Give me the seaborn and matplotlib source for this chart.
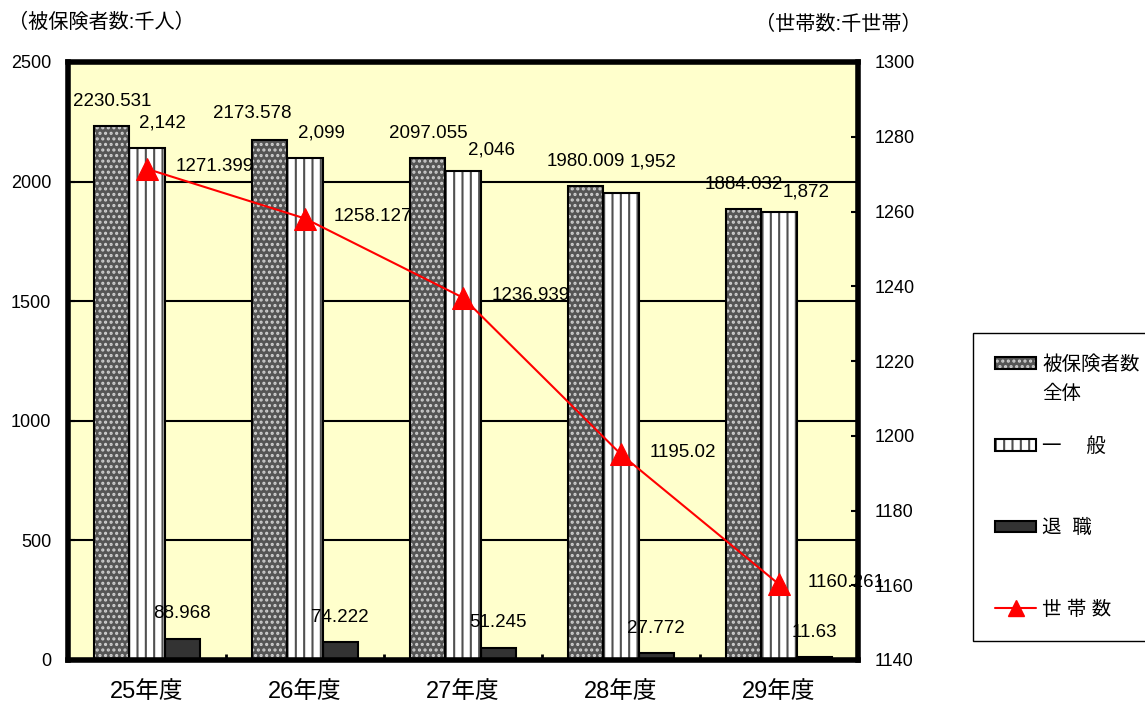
import numpy as np
import pandas as pd
import matplotlib
matplotlib.use('Agg')
import matplotlib.pyplot as plt
import seaborn as sns
from matplotlib.patches import Patch, Rectangle
from matplotlib.lines import Line2D
from matplotlib.legend_handler import HandlerBase, HandlerPatch

# ---- data ----
years = ['25年度', '26年度', '27年度', '28年度', '29年度']
insured_total = [2230.531, 2173.578, 2097.055, 1980.009, 1884.032]
general = [2142, 2099, 2046, 1952, 1872]
retired = [88.968, 74.222, 51.245, 27.772, 11.63]
households = [1271.399, 1258.127, 1236.939, 1195.02, 1160.261]
series_names = ['被保険者数全体', '一般', '退職']
left_ticks = [0, 500, 1000, 1500, 2000, 2500]
right_ticks = [1140, 1160, 1180, 1200, 1220, 1240, 1260, 1280, 1300]
legend_labels = ['被保険者数', '一\u3000 般', '退  職', '世 帯 数']
legend_label1_line2 = '全体'

W, H = 1145, 702

sns.set_theme(style='white', rc={'text.color': 'black', 'xtick.color': 'black',
                                 'ytick.color': 'black', 'axes.edgecolor': 'black'})
plt.rcParams['font.family'] = ['Liberation Sans', 'Noto Sans CJK JP']
plt.rcParams['hatch.linewidth'] = 1.5

df = pd.DataFrame({
    'year': years * 3,
    'series': np.repeat(series_names, len(years)),
    'value': insured_total + general + retired,
})

fig = plt.figure(figsize=(W / 100, H / 100), dpi=100)
ax = fig.add_axes([68 / W, 1 - 660 / H, 790 / W, 598 / H])
ax.set_facecolor('#FFFFCC')

sns.barplot(data=df, x='year', y='value', hue='series', hue_order=series_names,
            order=years, palette=['#555555', 'white', '#333333'], width=0.665,
            gap=0, edgecolor='black', linewidth=1.5, errorbar=None, legend=False, ax=ax)

# patterned bars: hatch layer + black outline
pattern = [('...', '#d0d0d0'), ('||', '#505050')]
for ci, (hatch, hcol) in enumerate(pattern):
    for bar in ax.containers[ci]:
        bar.set_hatch(hatch)
        bar.set_edgecolor(hcol)
        bar.set_linewidth(0)
        ax.add_patch(Rectangle(bar.get_xy(), bar.get_width(), bar.get_height(),
                               fill=False, edgecolor='black', lw=1.5,
                               zorder=bar.get_zorder() + 0.01))

# bar value labels (offsets in pixels)
tot_off = [(0, 25), (-18, 27), (0, 25), (0, 25), (0, 25)]
gen_off = [(15, 25), (16, 25), (28, 21), (32, 31), (27, 20)]
for bar, v, off in zip(ax.containers[0], insured_total, tot_off):
    ax.annotate(f'{v:.3f}', (bar.get_x() + bar.get_width() / 2, bar.get_height()),
                xytext=off, textcoords='offset pixels', ha='center', va='center', fontsize=13.5)
for bar, v, off in zip(ax.containers[1], general, gen_off):
    ax.annotate(f'{v:,}', (bar.get_x() + bar.get_width() / 2, bar.get_height()),
                xytext=off, textcoords='offset pixels', ha='center', va='center', fontsize=13.5)
for bar, v in zip(ax.containers[2], retired):
    ax.annotate(f'{v}', (bar.get_x() + bar.get_width() / 2, bar.get_height()),
                xytext=(0, 25), textcoords='offset pixels', ha='center', va='center', fontsize=13.5)

ax.set_ylim(0, 2500)
ax.set_yticks(left_ticks)
ax.yaxis.grid(True, color='black', lw=1.5)
ax.set_axisbelow(True)
ax.tick_params(axis='y', direction='in', length=5, width=1.5, pad=12, labelsize=13, left=True)
ax.set_xticks(range(len(years)))
ax.set_xticklabels(years, fontsize=17)
ax.set_xticks(np.arange(len(years) - 1) + 0.5, minor=True)
ax.tick_params(axis='x', which='major', length=0, pad=15)
ax.tick_params(axis='x', which='minor', direction='in', length=4, width=2, bottom=True)
ax.set_xlabel('')
ax.set_ylabel('')
for sp in ax.spines.values():
    sp.set_linewidth(4)
    sp.set_color('black')

# households line on secondary axis
ax2 = ax.twinx()
sns.lineplot(x=np.arange(len(years)), y=households, ax=ax2, color='red', marker='^',
             markersize=16, markeredgecolor='red', linewidth=1.5)
ax2.set_ylim(1140, 1300)
ax2.set_yticks(right_ticks)
ax2.tick_params(axis='y', direction='in', length=5, width=1.5, pad=12, labelsize=13, right=True)
for sp in ax2.spines.values():
    sp.set_visible(False)
for i, v in enumerate(households):
    ax2.annotate(f'{v}', (i, v), xytext=(29, 2), textcoords='offset pixels',
                 ha='left', va='center', fontsize=13.5)
ax.set_xlim(-0.5, len(years) - 0.5)

# unit captions
fig.text(8 / W, 1 - 22 / H, '（被保険者数:千人）', fontsize=14.5, ha='left', va='center')
fig.text(922 / W, 1 - 24 / H, '（世帯数:千世帯）', fontsize=14.5, ha='right', va='center')


# legend with overlaid hatch + outline handles
class OverlayHandler(HandlerBase):
    def create_artists(self, legend, orig_handle, xdescent, ydescent, width, height,
                       fontsize, trans):
        arts = []
        for h in orig_handle:
            arts += HandlerPatch().create_artists(legend, h, xdescent, ydescent, width,
                                                  height, fontsize, trans)
        return arts


h1 = (Patch(facecolor='#555555', edgecolor='#d0d0d0', hatch='...', lw=0),
      Patch(fill=False, edgecolor='black', lw=1.5))
h2 = (Patch(facecolor='white', edgecolor='#505050', hatch='||', lw=0),
      Patch(fill=False, edgecolor='black', lw=1.5))
h3 = Patch(facecolor='#333333', edgecolor='black', lw=1.5)
h4 = Line2D([], [], color='red', marker='^', markersize=11, lw=1.5)
leg = fig.legend([h1, h2, h3, h4], legend_labels, loc='upper left',
                 bbox_to_anchor=(973 / W, 1 - 333 / H), borderaxespad=0,
                 handler_map={tuple: OverlayHandler()},
                 fontsize=14, frameon=True, fancybox=False, edgecolor='black',
                 framealpha=1, borderpad=1.15, labelspacing=3.25, handlelength=2.1,
                 handleheight=0.55, handletextpad=0.3)
leg.get_frame().set_linewidth(1)

# second line of the first legend label, placed under the first line
fig.canvas.draw()
bb = leg.get_texts()[0].get_window_extent()
fig.text(bb.x0 / W, (bb.y0 + bb.y1) / 2 / H - 29 / H, legend_label1_line2,
         fontsize=14, ha='left', va='center', zorder=20)

fig.savefig('out.png', dpi=100)
